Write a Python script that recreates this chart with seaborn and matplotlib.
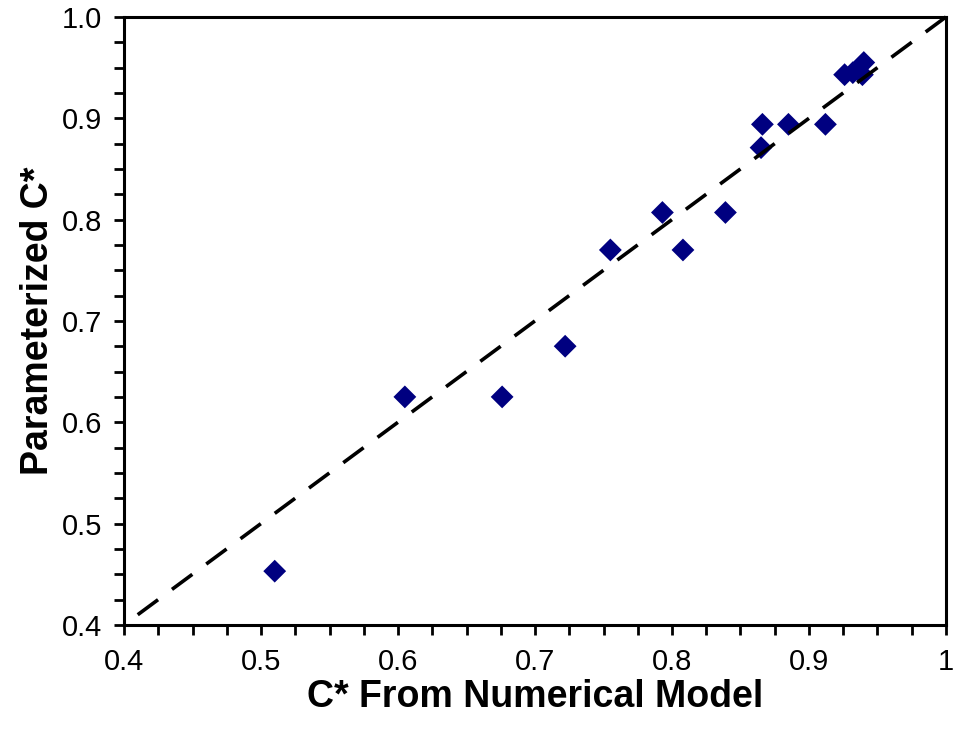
import matplotlib
matplotlib.use('Agg')
import matplotlib.pyplot as plt
import seaborn as sns
import pandas as pd
from matplotlib.ticker import MultipleLocator, FixedLocator

# values
c_numerical = [0.510, 0.605, 0.676, 0.722, 0.755, 0.793, 0.808, 0.839,
               0.865, 0.866, 0.885, 0.912, 0.926, 0.932, 0.939, 0.940]
c_param = [0.453, 0.625, 0.625, 0.675, 0.770, 0.807, 0.770, 0.807,
           0.871, 0.894, 0.894, 0.894, 0.943, 0.945, 0.943, 0.955]
line_x = [0.41, 1.0]
line_y = [0.41, 1.0]
x_ticks = [0.4, 0.5, 0.6, 0.7, 0.8, 0.9, 1.0]
x_labels = ['0.4', '0.5', '0.6', '0.7', '0.8', '0.9', '1']
y_ticks = [0.4, 0.5, 0.6, 0.7, 0.8, 0.9, 1.0]
y_labels = ['0.4', '0.5', '0.6', '0.7', '0.8', '0.9', '1.0']

sns.set_style('white')
plt.rcParams['font.family'] = ['Liberation Sans', 'DejaVu Sans']
plt.rcParams['text.color'] = 'black'
plt.rcParams['axes.labelcolor'] = 'black'
plt.rcParams['xtick.color'] = 'black'
plt.rcParams['ytick.color'] = 'black'

df = pd.DataFrame({'num': c_numerical, 'par': c_param})
fit = pd.DataFrame({'x': line_x, 'y': line_y})

fig = plt.figure(figsize=(9.54, 7.36), dpi=100)
ax = fig.add_axes([0.13, 0.151, 0.8616, 0.826])

sns.scatterplot(data=df, x='num', y='par', marker='D', s=135, color='#000080',
                edgecolor='none', ax=ax, zorder=2)
sns.lineplot(data=fit, x='x', y='y', color='black', lw=2.6, ax=ax, zorder=3)
ax.lines[-1].set_linestyle((0, (7.0, 4.8)))
ax.lines[-1].set_clip_on(False)

ax.set_xlim(0.4, 1.0)
ax.set_ylim(0.4, 1.0)
ax.xaxis.set_major_locator(FixedLocator(x_ticks))
ax.set_xticklabels(x_labels)
ax.yaxis.set_major_locator(FixedLocator(y_ticks))
ax.set_yticklabels(y_labels)
ax.xaxis.set_minor_locator(MultipleLocator(0.025))
ax.yaxis.set_minor_locator(MultipleLocator(0.025))
ax.tick_params(axis='both', which='both', direction='out', length=7, width=2,
               labelsize=21, bottom=True, left=True)
ax.tick_params(axis='x', which='major', pad=10)
ax.tick_params(axis='y', which='major', pad=9)

for sp in ax.spines.values():
    sp.set_linewidth(2.2)
    sp.set_color('black')

ax.set_xlabel('C* From Numerical Model', fontsize=27, fontweight='bold', labelpad=2)
ax.set_ylabel('Parameterized C*', fontsize=27, fontweight='bold', labelpad=4)
ax.grid(False)

fig.savefig('out.png', dpi=100)
